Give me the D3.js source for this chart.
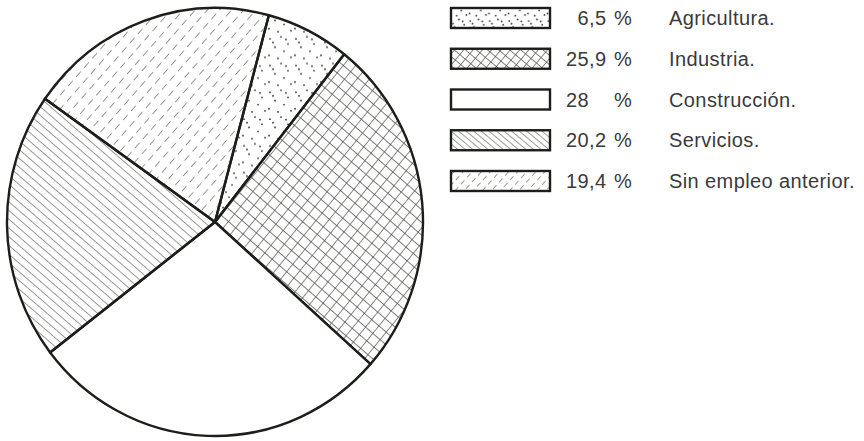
<!DOCTYPE html>
<html>
<head>
<meta charset="utf-8">
<script src="https://cdn.jsdelivr.net/npm/d3@7"></script>
<style>
  body { margin: 0; background: #fff; }
  svg { display: block; }
</style>
</head>
<body>
<div id="chart"></div>
<script>
const categories = ["Agricultura.", "Industria.", "Construcción.", "Servicios.", "Sin empleo anterior."];
const values = [6.5, 25.9, 28, 20.2, 19.4];
const valueLabels = ["6,5", "25,9", "28", "20,2", "19,4"];
const patternIds = ["dots", "grid", "blank", "back", "dash"];

const width = 864;
const height = 441;
const ink = "#1b1e1a";
const hatch = "#4a4d48";

const svg = d3.select("#chart").append("svg")
    .attr("width", width)
    .attr("height", height);

const defs = svg.append("defs");

// patterns, one per category; legend uses smaller versions
const makePatterns = (suffix, k) => {
    // stipple
    const dots = defs.append("pattern")
        .attr("id", "dots" + suffix)
        .attr("patternUnits", "userSpaceOnUse")
        .attr("width", 26 * k).attr("height", 26 * k);
    const pts = [[3, 4], [14, 2], [21, 9], [8, 12], [17, 16], [2, 20], [11, 23], [24, 22], [6, 7.5], [19, 4.5]];
    dots.selectAll("circle").data(pts).join("circle")
        .attr("cx", d => d[0] * k).attr("cy", d => d[1] * k)
        .attr("r", 0.9)
        .attr("fill", "#333");

    // diamond grid
    const s = 9.5 * k;
    const grid = defs.append("pattern")
        .attr("id", "grid" + suffix)
        .attr("patternUnits", "userSpaceOnUse")
        .attr("width", s).attr("height", s)
        .attr("patternTransform", "rotate(40)");
    grid.append("path")
        .attr("d", `M0,0H${s}M0,0V${s}`)
        .attr("stroke", hatch).attr("stroke-width", 1.3);

    // back-slash lines
    const b = 6.5 * k;
    const back = defs.append("pattern")
        .attr("id", "back" + suffix)
        .attr("patternUnits", "userSpaceOnUse")
        .attr("width", b).attr("height", b)
        .attr("patternTransform", "rotate(40)");
    back.append("path")
        .attr("d", `M0,0H${b}`)
        .attr("stroke", hatch).attr("stroke-width", 1.1);

    // dashed slash lines
    const dh = 9 * k;
    const dash = defs.append("pattern")
        .attr("id", "dash" + suffix)
        .attr("patternUnits", "userSpaceOnUse")
        .attr("width", 12 * k).attr("height", dh)
        .attr("patternTransform", "rotate(-48)");
    dash.append("path")
        .attr("d", `M0,0H${7 * k}`)
        .attr("stroke", "#555854").attr("stroke-width", 1.2);
};
makePatterns("", 1);
makePatterns("-s", 0.75);

const fillFor = (id, suffix) => id === "blank" ? "#fff" : `url(#${id}${suffix})`;

// pie
const cx = 215, cy = 222, rx = 208, ry = 214;
const start = 15 * Math.PI / 180;

const pie = d3.pie()
    .sort(null)
    .startAngle(start)
    .endAngle(start + 2 * Math.PI);

const arc = d3.arc()
    .innerRadius(0)
    .outerRadius(rx);

const arcs = pie(values);

const g = svg.append("g")
    .attr("transform", `translate(${cx},${cy}) scale(1,${ry / rx})`);

g.selectAll("path")
    .data(arcs)
    .join("path")
    .attr("d", arc)
    .attr("fill", (d, i) => fillFor(patternIds[i], ""))
    .attr("stroke", ink)
    .attr("stroke-width", 2.4)
    .attr("stroke-linejoin", "round");

// legend
const legendY = d3.scalePoint()
    .domain(categories)
    .range([18, 181]);

const legend = svg.append("g")
    .style("font-family", "'Liberation Sans', Arial, sans-serif")
    .style("font-size", "20px")
    .style("letter-spacing", "0.4px")
    .attr("fill", "#3a3a3a");

const row = legend.selectAll("g")
    .data(categories)
    .join("g")
    .attr("transform", d => `translate(0,${legendY(d)})`);

row.append("rect")
    .attr("x", 451).attr("y", -10)
    .attr("width", 99).attr("height", 20)
    .attr("fill", (d, i) => fillFor(patternIds[i], "-s"))
    .attr("stroke", ink)
    .attr("stroke-width", 2.4);

// numbers aligned on the decimal comma
row.append("text")
    .attr("x", 589).attr("dy", "0.36em")
    .attr("text-anchor", "end")
    .text((d, i) => valueLabels[i].split(",")[0]);

row.append("text")
    .attr("x", 589).attr("dy", "0.36em")
    .text((d, i) => valueLabels[i].includes(",") ? "," + valueLabels[i].split(",")[1] : "");

row.append("text")
    .attr("x", 614).attr("dy", "0.36em")
    .text("%");

row.append("text")
    .attr("x", 669).attr("dy", "0.36em")
    .text(d => d);
</script>
</body>
</html>
